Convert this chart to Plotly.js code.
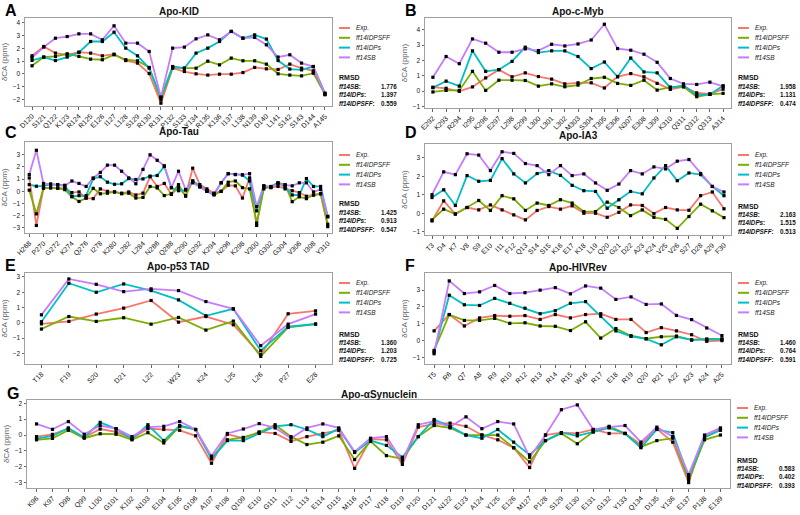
<!DOCTYPE html>
<html>
<head>
<meta charset="utf-8">
<script src="https://cdn.plot.ly/plotly-3.0.1.min.js"></script>
<style>body{margin:0;background:#fff}#chart{width:800px;height:515px}</style>
</head>
<body>
<div id="chart"></div>
<script>
// secondary CA shifts (ppm) per residue
const kidRes = ['D120','S121','Q122','K123','R124','R125','E126','I127','L128','S129','R130','R131','P132','S133','Y134','R135','K136','I137','L138','N139','D140','L141','S142','S143','D144','A145'];
const kidExp  = [1.41,2.14,1.62,1.49,1.7,1.62,1.41,1.54,1.04,0.84,0.02,-2.3,0.44,0.18,0.0,-0.1,-0.03,-0.03,0.1,0.5,0.39,0.34,0.76,0.44,0.23,-1.64];
const kidSFF  = [0.63,1.31,1.36,1.57,1.36,1.15,1.1,1.49,1.1,1.02,0.5,-2.04,0.5,0.44,0.44,0.99,0.7,1.23,1.02,1.02,0.76,0.0,-0.1,-0.16,0.05,-1.57];
const kidIDPs = [1.05,1.31,1.04,1.31,1.67,2.53,2.53,3.26,2.01,1.41,0.44,-1.83,0.57,0.44,1.62,2.01,2.53,3.32,2.79,3.05,2.72,1.04,0.37,0.31,0.57,-1.51];
const kidSB   = [1.28,2.09,2.79,2.92,3.13,3.13,2.66,3.76,2.4,2.4,1.75,-1.83,2.01,2.09,2.74,3.05,2.66,3.32,2.79,2.85,2.27,1.31,1.49,0.84,0.57,-1.59];
const kidRmsd = [1.776, 1.397, 0.559];

const mybRes = ['E292','K293','R294','I295','K296','E297','L298','E299','L300','L301','L302','M303','S304','T305','E306','N307','E308','L309','K310','Q311','Q312','Q313','A314'];
const mybExp  = [0.25,0.18,-0.02,0.27,0.86,1.4,0.93,1.19,0.95,0.78,0.47,0.54,0.54,0.2,0.95,1.14,0.93,0.5,0.11,0.28,-0.12,-0.18,0.12];
const mybSFF  = [-0.06,0.04,0.04,1.29,0.04,0.71,0.71,0.69,0.32,0.47,0.28,0.39,0.82,0.9,0.5,0.37,0.71,0.06,0.26,0.28,-0.37,-0.22,-0.15];
const mybIDPs = [0.22,0.65,0.32,2.63,1.29,1.4,1.94,2.87,2.52,2.63,2.63,2.26,1.47,1.9,0.93,2.16,1.25,1.19,0.22,0.37,-0.26,-0.22,0.35];
const mybSB   = [0.9,2.26,1.79,3.41,3.13,2.54,2.54,2.76,2.65,3.06,2.95,3.08,3.34,4.37,2.78,2.67,2.41,1.88,0.82,0.47,0.43,0.58,0.3];
const mybRmsd = [1.958, 1.131, 0.474];

const tauRes = ['H268','Q269','P270','G271','G272','G273','K274','V275','Q276','I277','I278','N279','K280','K281','L282','D283','L284','S285','N286','V287','Q288','S289','K290','C291','G292','S293','K294','D295','N296','I297','K298','H299','V300','P301','G302','G303','G304','S305','V306','Q307','I308','V309','Y310'];
const tauExp  = [1.1,-2.8,0.25,0.3,0.28,0.25,-0.1,-0.05,-0.55,-0.6,0.2,0.0,-0.05,-0.15,-0.05,-0.3,-0.15,1.2,0.4,0.65,-0.25,0.3,-0.35,1.9,0.55,0.2,-0.15,0.0,0.5,0.45,-0.55,1.1,-2.8,0.35,0.3,0.4,0.2,0.05,-0.1,-0.4,-0.3,-0.2,-2.9];
const tauSFF  = [0.1,-1.85,0.3,0.28,0.25,0.14,-0.45,-0.83,-0.55,0.25,-0.2,-0.15,-0.05,-0.2,-0.15,-0.55,-0.5,0.4,0.28,-0.35,-0.2,0.55,-0.4,0.85,0.4,0.05,-0.3,0.0,0.75,0.85,0.3,0.2,-2.6,0.2,0.4,0.7,0.55,-0.85,-0.45,-0.6,-0.3,-0.2,-2.7];
const tauIDPs = [0.55,0.42,0.45,0.58,0.55,0.5,-0.4,-0.35,-0.35,1.05,1.2,0.75,0.58,0.62,1.05,0.97,1.02,1.25,1.3,2.05,0.3,0.05,0.1,0.85,0.4,0.0,-0.25,0.7,1.45,1.38,1.35,0.85,-1.6,0.45,0.35,0.7,0.35,-0.3,-0.3,1.05,0.4,0.4,-2.05];
const tauSB   = [1.38,3.37,0.65,0.6,0.55,0.45,0.85,0.65,0.4,1.1,1.55,2.15,2.15,1.65,1.1,0.62,1.8,3.0,2.55,2.1,0.3,1.65,0.15,0.7,0.35,0.0,-0.2,0.7,1.45,1.38,1.35,1.45,-1.25,0.45,0.35,0.6,0.5,0.45,0.7,0.7,-0.05,0.15,-2.1];
const tauRmsd = [1.425, 0.913, 0.547];

const ia3Res = ['T3','D4','K7','V8','S9','E10','I11','F12','Q13','S14','S15','K16','E17','K18','L19','Q20','G21','D22','A23','K24','V25','V26','S27','D28','A29','F30'];
const ia3Exp  = [-0.42,0.67,-0.05,0.31,0.18,0.45,0.18,-0.09,-0.36,0.15,0.36,0.22,0.4,0.0,0.0,-0.22,0.05,0.45,0.42,-0.02,0.31,0.18,0.16,0.95,1.15,0.24];
const ia3SFF  = [-0.36,0.22,-0.04,0.31,0.69,0.15,0.95,0.78,0.15,0.55,0.42,0.73,0.55,0.09,0.09,0.6,0.31,-0.13,0.18,-0.22,-0.33,-0.82,-0.18,0.49,0.13,-0.24];
const ia3IDPs = [0.85,1.27,0.42,2.04,1.73,1.78,2.96,2.13,1.64,2.15,2.31,2.05,1.51,1.22,1.18,0.27,0.73,1.18,1.05,1.91,2.58,1.76,2.18,2.09,1.45,0.95];
const ia3SB   = [1.0,2.24,2.09,3.22,3.15,2.31,3.33,3.24,2.69,2.58,2.09,2.58,2.04,2.13,1.64,1.24,1.58,2.31,2.13,2.51,2.4,2.82,2.91,2.15,1.45,1.15];
const ia3Rmsd = [2.163, 1.515, 0.513];

const p53Res = ['T18','F19','S20','D21','L22','W23','K24','L25','L26','P27','E28'];
const p53Exp  = [-0.07,0.09,0.57,0.96,1.46,0.04,0.41,-0.13,-2.09,0.59,0.78];
const p53SFF  = [-0.41,0.41,0.09,0.33,-0.09,0.35,-0.48,0.11,-2.2,-0.3,-0.09];
const p53IDPs = [0.07,2.59,2.0,2.54,2.11,1.5,0.46,0.91,-1.83,-0.26,-0.08];
const p53SB   = [0.52,2.87,2.52,2.04,2.22,2.11,1.39,0.91,-1.5,-0.09,0.57];
const p53Rmsd = [1.360, 1.203, 0.725];

const revRes = ['T5','R6','Q7','A8','R9','R10','R12','R13','R14','R15','W16','R17','E18','R19','Q20','R21','A22','A23','A24','A25'];
const revExp  = [0.58,1.55,0.87,1.35,1.49,1.45,1.49,1.26,1.55,1.35,1.55,1.6,1.26,1.26,0.48,0.77,0.58,0.35,-0.04,0.0];
const revSFF  = [-0.58,1.55,1.2,1.2,1.32,1.03,1.06,0.87,0.85,0.6,1.12,0.15,0.72,0.29,0.12,0.23,0.27,0.04,0.1,0.1];
const revIDPs = [-0.68,2.7,2.13,2.09,2.51,2.22,1.93,1.6,1.78,2.22,2.32,1.45,0.58,0.25,0.1,-0.25,0.23,0.04,0.04,0.08];
const revSB   = [-0.78,3.55,2.8,2.9,3.28,2.8,2.85,3.0,3.15,2.78,3.25,3.12,2.45,2.6,2.15,2.18,1.5,1.25,0.75,0.3];
const revRmsd = [1.460, 0.764, 0.591];

const synRes = ['K96','K97','D98','Q99','L100','G101','K102','N103','E104','E105','G106','A107','P108','Q109','E110','G111','I112','L113','E114','D115','M116','P117','V118','D119','P120','D121','N122','E123','A124','Y125','E126','M127','P128','S129','E130','E131','G132','Y133','Q134','D135','Y136','E137','P138','E139'];
const synExp  = [-0.1,0.04,0.4,-0.15,0.38,0.2,-0.2,0.4,0.35,0.3,-0.05,-1.78,0.05,-0.2,0.2,0.1,-0.4,-0.1,0.1,0.3,-2.1,-0.25,-0.3,-1.85,0.5,0.7,0.75,0.55,0.0,-0.3,-0.8,-2.05,0.0,0.15,0.1,0.35,0.1,0.1,-0.6,0.4,-0.45,-3.0,-0.05,0.35];
const synSFF  = [-0.3,-0.21,0.3,-0.2,0.08,0.05,-0.3,0.15,-0.5,0.55,0.35,-1.45,-0.3,-0.15,0.15,0.65,-0.1,-0.6,-0.45,-0.05,-1.55,-0.4,-1.3,-1.5,-0.1,0.6,0.45,0.0,0.0,0.0,-0.8,-1.7,-0.35,0.1,-0.55,0.2,0.55,0.1,-0.75,-0.35,-0.2,-2.8,-0.3,0.0];
const synIDPs = [-0.22,-0.06,0.45,-0.15,0.8,0.4,-0.25,0.65,-0.35,0.6,0.35,-1.5,-0.35,-0.35,0.1,0.55,0.65,0.35,-0.1,0.4,-1.1,-0.35,-0.65,-1.4,-0.1,0.98,0.55,0.0,-0.2,0.35,-0.45,-1.25,-0.35,0.15,-0.05,0.2,0.45,0.1,-0.8,0.35,0.15,-2.65,-0.15,0.3];
const synSB   = [0.7,0.36,0.85,0.05,0.6,0.4,-0.1,0.5,0.55,0.85,0.35,-1.33,0.1,0.38,0.72,0.45,-0.2,0.45,0.7,0.45,-1.05,-0.2,-0.1,-1.65,0.65,0.88,0.5,1.15,0.4,0.85,0.7,-1.4,0.0,1.6,1.9,0.35,0.5,0.6,-0.45,0.5,-0.1,-2.5,0.0,0.45];
const synRmsd = [0.583, 0.402, 0.393];

const seriesNames = ['Exp.', 'ff14IDPSFF', 'ff14IDPs', 'ff14SB'];
const seriesColors = ['#F8766D', '#7CAE00', '#00BFC4', '#C77CFF'];
const rmsdNames = ['ff14SB', 'ff14IDPs', 'ff14IDPSFF'];

const W = 800, H = 515;
const FONT = 'Liberation Sans, Arial, sans-serif';

// box = [left, right, top, bottom] of each plot frame in pixels
const panels = [
  {tag:'A', title:'Apo-KID', res:kidRes, ys:[kidExp,kidSFF,kidIDPs,kidSB], rmsd:kidRmsd,
   box:[25,332,18,106], yr:[-2.52,4.37], yt:[-2,-1,0,1,2,3,4], titleY:12, tagY:11, legY:28, rmsY:78},
  {tag:'B', title:'Apo-c-Myb', res:mybRes, ys:[mybExp,mybSFF,mybIDPs,mybSB], rmsd:mybRmsd,
   box:[425,731,18,108], yr:[-1.11,4.78], yt:[-1,0,1,2,3,4], titleY:12, tagY:11, legY:28, rmsY:78},
  {tag:'C', title:'Apo-Tau', res:tauRes, ys:[tauExp,tauSFF,tauIDPs,tauSB], rmsd:tauRmsd,
   box:[25,332,142,233], yr:[-3.42,4.05], yt:[-3,-2,-1,0,1,2,3], titleY:131, tagY:132, legY:155, rmsY:204, every:2},
  {tag:'D', title:'Apo-IA3', res:ia3Res, ys:[ia3Exp,ia3SFF,ia3IDPs,ia3SB], rmsd:ia3Rmsd,
   box:[425,731,144,235], yr:[-1.18,3.75], yt:[-1,0,1,2,3], titleY:136, tagY:132, legY:155, rmsY:206},
  {tag:'E', title:'Apo-p53 TAD', res:p53Res, ys:[p53Exp,p53SFF,p53IDPs,p53SB], rmsd:p53Rmsd,
   box:[25,332,273,364], yr:[-2.7,3.26], yt:[-2,-1,0,1,2,3], titleY:266, tagY:265, legY:283, rmsY:334},
  {tag:'F', title:'Apo-HIVRev', res:revRes, ys:[revExp,revSFF,revIDPs,revSB], rmsd:revRmsd,
   box:[425,731,273,364], yr:[-1.39,4.02], yt:[-1,0,1,2,3], titleY:267, tagY:265, legY:283, rmsY:334},
  {tag:'G', title:'Apo-\u03b1Synuclein', res:synRes, ys:[synExp,synSFF,synIDPs,synSB], rmsd:synRmsd,
   box:[27,730,400,488], yr:[-3.34,2.21], yt:[-3,-2,-1,0,1,2], titleY:394, tagY:393, legY:408, rmsY:460}
];

const px = v => v / W;
const py = v => 1 - v / H;

const data = [];
const layout = {
  width: W, height: H,
  margin: {l:0, r:0, t:0, b:0},
  paper_bgcolor: '#fff', plot_bgcolor: '#fff',
  font: {family: FONT, color: '#222'},
  showlegend: false,
  annotations: [],
  shapes: []
};

panels.forEach((p, k) => {
  const s = k === 0 ? '' : String(k + 1);
  const [l, r, t, b] = p.box;
  const n = p.res.length;

  // lines first, then the black point markers on top
  p.ys.forEach((vals, j) => {
    data.push({
      x: p.res, y: vals, mode: 'lines', xaxis: 'x' + s, yaxis: 'y' + s,
      line: {color: seriesColors[j], width: 1.8}, hoverinfo: 'skip'
    });
  });
  p.ys.forEach(vals => {
    data.push({
      x: p.res, y: vals, mode: 'markers', xaxis: 'x' + s, yaxis: 'y' + s,
      marker: {symbol: 'square', size: 3.2, color: '#000'}, hoverinfo: 'skip'
    });
  });

  const step = p.every || 1;
  layout['xaxis' + s] = {
    domain: [px(l), px(r)], anchor: 'y' + s,
    type: 'category', categoryorder: 'array', categoryarray: p.res,
    range: [-0.6, n - 0.4],
    tickmode: 'array', tickvals: p.res.filter((v, i) => i % step === 0),
    tickangle: -45, tickfont: {size: 7, color: '#111'},
    ticks: 'outside', ticklen: 2.5, tickcolor: '#666',
    showline: true, mirror: true, linecolor: '#a0a0a0', linewidth: 1,
    showgrid: false, zeroline: false, fixedrange: true
  };
  layout['yaxis' + s] = {
    domain: [py(b), py(t)], anchor: 'x' + s,
    range: p.yr, tickmode: 'array', tickvals: p.yt,
    tickfont: {size: 6.5, color: '#111'},
    ticks: 'outside', ticklen: 2.5, tickcolor: '#666',
    showline: true, mirror: true, linecolor: '#a0a0a0', linewidth: 1,
    showgrid: false, zeroline: false, fixedrange: true,
    title: {text: '\u03b4CA (ppm)', font: {size: 8, color: '#666'}, standoff: 3}
  };

  // panel title and letter
  layout.annotations.push({
    xref: 'paper', yref: 'paper', x: px((l + r) / 2), y: py(p.titleY),
    xanchor: 'center', yanchor: 'middle', showarrow: false,
    text: '<b>' + p.title + '</b>', font: {size: 10, color: '#111'}
  });
  layout.annotations.push({
    xref: 'paper', yref: 'paper', x: px(l - 22), y: py(p.tagY),
    xanchor: 'left', yanchor: 'middle', showarrow: false,
    text: '<b>' + p.tag + '</b>', font: {size: 16, color: '#000'}
  });

  // hand-drawn legend to the right of each plot
  seriesNames.forEach((name, j) => {
    const yy = p.legY + j * 9.8;
    layout.shapes.push({
      type: 'line', xref: 'paper', yref: 'paper',
      x0: px(r + 7), x1: px(r + 18), y0: py(yy), y1: py(yy),
      line: {color: seriesColors[j], width: 2}
    });
    layout.annotations.push({
      xref: 'paper', yref: 'paper', x: px(r + 22), y: py(yy),
      xanchor: 'left', yanchor: 'middle', showarrow: false,
      text: '<i>' + name + '</i>', font: {size: 6.5, color: '#222'}
    });
  });

  // RMSD block
  layout.annotations.push({
    xref: 'paper', yref: 'paper', x: px(r + 5), y: py(p.rmsY),
    xanchor: 'left', yanchor: 'middle', showarrow: false,
    text: '<b>RMSD</b>', font: {size: 7, color: '#111'}
  });
  rmsdNames.forEach((name, j) => {
    const yy = p.rmsY + 8.4 * (j + 1);
    layout.annotations.push({
      xref: 'paper', yref: 'paper', x: px(r + 5), y: py(yy),
      xanchor: 'left', yanchor: 'middle', showarrow: false,
      text: '<b><i>' + name + '</i>:</b>', font: {size: 6.3, color: '#111'}
    });
    layout.annotations.push({
      xref: 'paper', yref: 'paper', x: px(r + 67), y: py(yy),
      xanchor: 'right', yanchor: 'middle', showarrow: false,
      text: '<b>' + p.rmsd[j].toFixed(3) + '</b>', font: {size: 6.3, color: '#111'}
    });
  });
});

Plotly.newPlot('chart', data, layout, {displayModeBar: false, staticPlot: true});
</script>
</body>
</html>
